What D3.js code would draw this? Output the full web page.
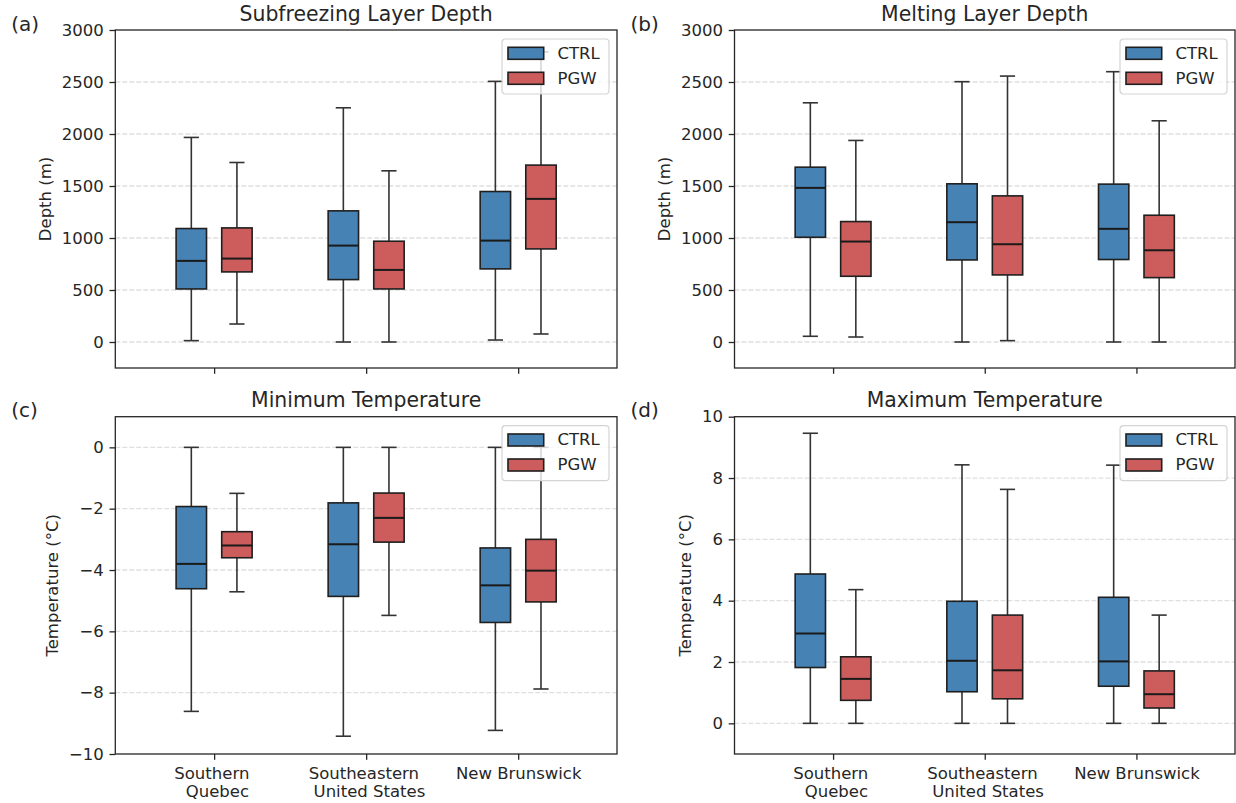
<!DOCTYPE html>
<html>
<head>
<meta charset="utf-8">
<script src="https://cdn.jsdelivr.net/npm/d3@7"></script>
<style>
  html, body { margin: 0; padding: 0; background: #ffffff; }
  svg { display: block; font-family: "DejaVu Sans", sans-serif; }
</style>
</head>
<body>
<svg id="fig" width="1236" height="803"></svg>
<script>
// Regions (x categories), each split into display lines
const regions = ["Southern Quebec", "Southeastern United States", "New Brunswick"];
const regionLines = [["Southern", "Quebec"], ["Southeastern", "United States"], ["New Brunswick"]];
const seriesNames = ["CTRL", "PGW"];

// Box statistics per region: [lower whisker, Q1, median, Q3, upper whisker]
const subfreezingCtrl = [[13, 510, 780, 1091, 1967], [0, 600, 927, 1261, 2252], [19, 703, 975, 1447, 2506]];
const subfreezingPgw  = [[173, 674, 802, 1097, 1726], [0, 510, 693, 969, 1646], [77, 895, 1376, 1701, 2790]];
const meltingCtrl     = [[55, 1007, 1482, 1681, 2300], [0, 789, 1152, 1521, 2503], [0, 793, 1088, 1518, 2599]];
const meltingPgw      = [[48, 632, 966, 1158, 1938], [13, 645, 940, 1405, 2557], [0, 619, 882, 1219, 2127]];
const tminCtrl        = [[-8.61, -4.61, -3.80, -1.93, 0], [-9.42, -4.86, -3.16, -1.81, 0], [-9.23, -5.71, -4.50, -3.28, 0]];
const tminPgw         = [[-4.71, -3.60, -3.20, -2.75, -1.50], [-5.48, -3.09, -2.30, -1.49, 0], [-7.88, -5.04, -4.02, -3.00, 0]];
const tmaxCtrl        = [[0, 1.82, 2.93, 4.87, 9.46], [0, 1.03, 2.04, 3.98, 8.43], [0, 1.21, 2.02, 4.11, 8.42]];
const tmaxPgw         = [[0, 0.75, 1.45, 2.17, 4.36], [0, 0.80, 1.73, 3.53, 7.63], [0, 0.50, 0.95, 1.71, 3.53]];

// Tick values per panel
const depthTicks = [0, 500, 1000, 1500, 2000, 2500, 3000];
const tminTicks = [-10, -8, -6, -4, -2, 0];
const tmaxTicks = [0, 2, 4, 6, 8, 10];

const colors = { CTRL: "#4682b4", PGW: "#cd5c5c" };

const panels = [
  { tag: "(a)", title: "Subfreezing Layer Depth", ylabel: "Depth (m)", ctrl: subfreezingCtrl, pgw: subfreezingPgw,
    domain: [-250, 3000], ticks: depthTicks, box: [115.3, 30, 617, 368], xlabels: false },
  { tag: "(b)", title: "Melting Layer Depth", ylabel: "Depth (m)", ctrl: meltingCtrl, pgw: meltingPgw,
    domain: [-250, 3000], ticks: depthTicks, box: [734.5, 30, 1235, 368], xlabels: false },
  { tag: "(c)", title: "Minimum Temperature", ylabel: "Temperature (°C)", ctrl: tminCtrl, pgw: tminPgw,
    domain: [-10, 1], ticks: tminTicks, box: [115.3, 416.7, 617, 754], xlabels: true },
  { tag: "(d)", title: "Maximum Temperature", ylabel: "Temperature (°C)", ctrl: tmaxCtrl, pgw: tmaxPgw,
    domain: [-1, 10], ticks: tmaxTicks, box: [734.5, 416.7, 1235, 754], xlabels: true }
];

const svg = d3.select("#fig");
const tickFont = 16.5, titleFont = 20.4, tagFont = 20;
const tickLen = 5.8, tickPad = 5.8;
const ink = "#262626";
const fmt = v => (v < 0 ? "\u2212" + Math.abs(v) : String(v));

panels.forEach(p => {
  const [x0, y0, x1, y1] = p.box;
  const g = svg.append("g");
  const x = d3.scaleLinear().domain([0.35, 3.65]).range([x0, x1]);
  const y = d3.scaleLinear().domain(p.domain).range([y1, y0]);

  // horizontal dashed grid
  g.append("g").selectAll("line").data(p.ticks.filter(t => t > p.domain[0] && t < p.domain[1])).join("line")
    .attr("x1", x0).attr("x2", x1).attr("y1", d => y(d)).attr("y2", d => y(d))
    .attr("stroke", "#b8b8b8").attr("stroke-opacity", 0.45).attr("stroke-width", 1.3)
    .attr("stroke-dasharray", "4.9,2.1");

  // boxes
  const offsets = { CTRL: -0.15, PGW: 0.15 };
  const halfW = 0.1, capHalf = 0.05;
  seriesNames.forEach(name => {
    const stats = name === "CTRL" ? p.ctrl : p.pgw;
    stats.forEach((s, i) => {
      const c = i + 1 + offsets[name];
      const [lo, q1, med, q3, hi] = s;
      const bg = g.append("g");
      // whiskers
      bg.append("line").attr("x1", x(c)).attr("x2", x(c)).attr("y1", y(q1)).attr("y2", y(lo))
        .attr("stroke", "#333").attr("stroke-width", 1.6);
      bg.append("line").attr("x1", x(c)).attr("x2", x(c)).attr("y1", y(q3)).attr("y2", y(hi))
        .attr("stroke", "#333").attr("stroke-width", 1.6);
      // caps
      [lo, hi].forEach(v => bg.append("line")
        .attr("x1", x(c - capHalf)).attr("x2", x(c + capHalf)).attr("y1", y(v)).attr("y2", y(v))
        .attr("stroke", "#333").attr("stroke-width", 1.6));
      // box
      bg.append("rect").attr("x", x(c - halfW)).attr("width", x(c + halfW) - x(c - halfW))
        .attr("y", y(q3)).attr("height", y(q1) - y(q3))
        .attr("fill", colors[name]).attr("stroke", "#1f1f1f").attr("stroke-width", 1.6);
      // median
      bg.append("line").attr("x1", x(c - halfW)).attr("x2", x(c + halfW)).attr("y1", y(med)).attr("y2", y(med))
        .attr("stroke", "#1a1a1a").attr("stroke-width", 2);
    });
  });

  // frame
  g.append("rect").attr("x", x0).attr("y", y0).attr("width", x1 - x0).attr("height", y1 - y0)
    .attr("fill", "none").attr("stroke", ink).attr("stroke-width", 1.3);

  // y axis
  const yAxis = g.append("g").attr("transform", `translate(${x0},0)`)
    .call(d3.axisLeft(y).tickValues(p.ticks).tickFormat(fmt).tickSize(tickLen).tickPadding(tickPad));
  yAxis.select(".domain").remove();
  yAxis.selectAll(".tick line").attr("stroke", ink).attr("stroke-width", 1.3);
  yAxis.selectAll(".tick text").attr("font-size", tickFont).attr("fill", ink)
    .attr("font-family", "DejaVu Sans");

  // x axis
  const xAxis = g.append("g").attr("transform", `translate(0,${y1})`)
    .call(d3.axisBottom(x).tickValues([1, 2, 3]).tickFormat("").tickSize(tickLen).tickPadding(tickPad));
  xAxis.select(".domain").remove();
  xAxis.selectAll(".tick line").attr("stroke", ink).attr("stroke-width", 1.3);
  if (p.xlabels) {
    xAxis.selectAll(".tick").each(function (d, i) {
      const lines = regionLines[i];
      const t = d3.select(this).append("text")
        .attr("font-size", tickFont).attr("fill", ink).attr("font-family", "DejaVu Sans")
        .attr("text-anchor", "middle");
      lines.forEach((ln, k) => {
        const shift = lines.length > 1 ? (k === 0 ? -2.8 : 2.8) : 0;
        t.append("tspan").attr("x", shift).attr("y", 25 + k * 18).text(ln);
      });
    });
  }

  // y label, placed left of the tick labels
  const bb = yAxis.node().getBBox();
  const labX = x0 + bb.x - 6.6 - 4;
  g.append("text").attr("transform", `translate(${labX},${(y0 + y1) / 2}) rotate(-90)`)
    .attr("text-anchor", "middle").attr("font-size", tickFont).attr("fill", ink).text(p.ylabel);

  // title
  g.append("text").attr("x", (x0 + x1) / 2).attr("y", y0 - 9.5).attr("text-anchor", "middle")
    .attr("font-size", titleFont).attr("fill", ink).text(p.title);

  // panel tag
  g.append("text").attr("x", x0 - 104).attr("y", y0 + 0.5).attr("font-size", tagFont)
    .attr("fill", ink).text(p.tag);

  // legend
  const lw = 107, lh = 55;
  const lx = x1 - 8 - lw, ly = y0 + 9;
  const lg = g.append("g").attr("transform", `translate(${lx},${ly})`);
  lg.append("rect").attr("width", lw).attr("height", lh).attr("rx", 3.5)
    .attr("fill", "#ffffff").attr("fill-opacity", 0.8).attr("stroke", "#d4d4d4").attr("stroke-width", 1.2);
  seriesNames.forEach((name, k) => {
    const py = 8.3 + k * 25;
    lg.append("rect").attr("x", 6).attr("y", py).attr("width", 35.7).attr("height", 12)
      .attr("fill", colors[name]).attr("stroke", "#1f1f1f").attr("stroke-width", 1.6);
    lg.append("text").attr("x", 55.5).attr("y", py + 6).attr("dominant-baseline", "central")
      .attr("font-size", tickFont).attr("fill", ink).text(name);
  });
});
</script>
</body>
</html>
